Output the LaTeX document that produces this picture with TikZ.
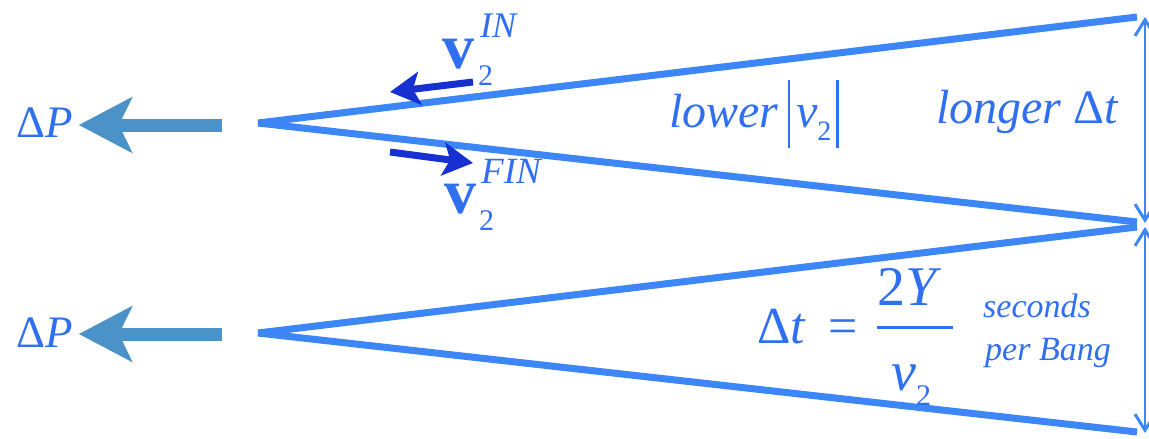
\documentclass[tikz,border=0pt]{standalone}
\usepackage{fontspec}
\newfontfamily\tms{Liberation Serif}
\usetikzlibrary{arrows.meta}
\definecolor{wedgeblue}{RGB}{60,134,248}
\definecolor{txtblue}{RGB}{47,111,240}
\definecolor{pblue}{RGB}{74,146,200}
\definecolor{vblue}{RGB}{22,48,210}
\newcommand{\fsz}[1]{\fontsize{#1}{#1}\selectfont\tms}
\begin{document}
\begin{tikzpicture}[x=1pt,y=-1pt,
  wedge/.style={draw=wedgeblue,line width=7pt,line cap=butt},
  pbarrow/.style={draw=pblue,line width=13pt,-{Stealth[length=53pt,width=55pt,inset=13pt]}},
  varrow/.style={draw=vblue,line width=7pt,-{Stealth[length=30pt,width=33pt,inset=7pt]}},
  dimarrow/.style={draw=wedgeblue,line width=2.5pt,{Straight Barb[length=16pt,width=20pt,line width=3pt]}-{Straight Barb[length=16pt,width=20pt,line width=3pt]}},
  lbl/.style={text=txtblue,inner sep=0pt,anchor=base west}]
\useasboundingbox (0,0) rectangle (1149,439);
% wedges
\coordinate (A1) at (258,123);
\coordinate (T1) at (1137,17);
\coordinate (M1) at (1137,222);
\coordinate (A2) at (258,333);
\coordinate (M2) at (1137,227);
\coordinate (B2) at (1137,432);
\draw[wedge] (A1) -- (T1);
\draw[wedge] (A1) -- (M1);
\draw[wedge] (A2) -- (M2);
\draw[wedge] (A2) -- (B2);
% dimension arrows
\coordinate (d1) at (1145,17);
\coordinate (d2) at (1145,223);
\coordinate (d3) at (1145,227);
\coordinate (d4) at (1145,433);
\draw[dimarrow] (d1) -- (d2);
\draw[dimarrow] (d3) -- (d4);
% Delta P
\node[lbl] (dp1) at (16,137) {\fsz{45}Δ\textit{P}};
\node[lbl] (dp2) at (16,347) {\fsz{45}Δ\textit{P}};
\coordinate (p1) at (222,125);
\coordinate (p2) at (222,334);
\draw[pbarrow,shorten >=6pt] (p1) -- (p1 -| dp1.east);
\draw[pbarrow,shorten >=6pt] (p2) -- (p2 -| dp2.east);
% velocity labels
\node[lbl] (vin) at (442,68) {\fsz{64}\textbf{v}\rlap{\raisebox{31pt}{\fsz{36}\hspace{6pt}\textit{IN}}}\raisebox{-17pt}{\fsz{30}\hspace{4pt}2}};
\node[lbl] (vfin) at (444,213) {\fsz{64}\textbf{v}\rlap{\raisebox{30pt}{\fsz{37}\hspace{5pt}\textit{FIN}}}\raisebox{-17pt}{\fsz{30}\hspace{3pt}2}};
\coordinate (vi1) at (473,82);
\coordinate (vi2) at (390,92);
\coordinate (vf1) at (390,152);
\coordinate (vf2) at (473,163);
\draw[varrow] (vi1) -- (vi2);
\draw[varrow] (vf1) -- (vf2);
% lower |v2|
\node[lbl] (lower) at (669,127) {\fsz{48}\textit{lower}\hspace{9pt}\rule[-21pt]{2.5pt}{68pt}\hspace{6pt}\textit{v}\raisebox{-13pt}{\fsz{28}2}\hspace{5pt}\rule[-21pt]{2.5pt}{68pt}};
\node[lbl] (longer) at (936,123) {\fsz{48}\textit{longer} Δ\textit{t}};
% formula
\node[lbl] (dt) at (757,343) {\fsz{52}Δ\textit{t}\hspace{22pt}=};
\node[lbl] (num) at (877,305) {\fsz{56}2\textit{Y}};
\coordinate (f1) at (877,327);
\coordinate (f2) at (953,327);
\draw[draw=txtblue,line width=3pt] (f1) -- (f2);
\node[lbl] (den) at (891,390) {\fsz{56}\textit{v}\raisebox{-15pt}{\fsz{30}2}};
\node[lbl] (sec) at (983,317) {\fsz{34}\textit{seconds}};
\node[lbl] (bang) at (985,360) {\fsz{34}\textit{per Bang}};
\end{tikzpicture}
\end{document}
